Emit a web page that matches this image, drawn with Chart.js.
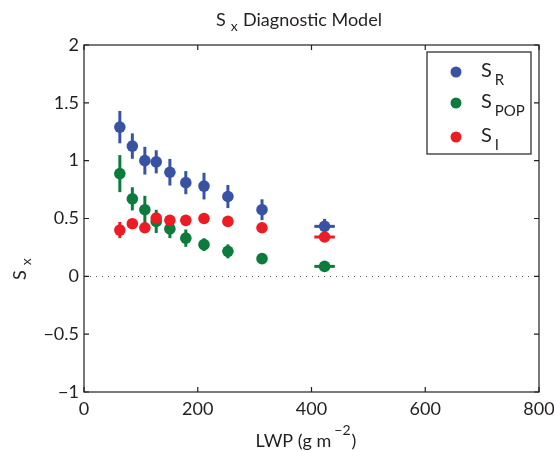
<!DOCTYPE html>
<html><head><meta charset="utf-8">
<script src="https://cdn.jsdelivr.net/npm/chart.js@4/dist/chart.umd.min.js"></script>
<style>html,body{margin:0;padding:0;background:#fff;}#wrap{width:554px;height:451px;position:relative;}</style>
</head><body><div id="wrap"><canvas id="c" width="554" height="451"></canvas></div>
<script>
// ---- data ----
const lwp      = [63, 85, 107, 127, 151, 179, 211, 253, 313, 423];
const lwpErr   = [0, 0, 0, 0, 0, 0, 0, 0, 0, 18];
const sR       = [1.29, 1.126, 1.0, 0.99, 0.90, 0.81, 0.78, 0.69, 0.576, 0.432];
const sRErr    = [0.14, 0.11, 0.12, 0.10, 0.115, 0.10, 0.115, 0.10, 0.09, 0.065];
const sPOP     = [0.888, 0.67, 0.576, 0.475, 0.41, 0.33, 0.274, 0.216, 0.153, 0.086];
const sPOPErr  = [0.16, 0.10, 0.12, 0.10, 0.08, 0.075, 0.055, 0.06, 0.02, 0.02];
const sI       = [0.40, 0.455, 0.42, 0.504, 0.484, 0.484, 0.50, 0.475, 0.42, 0.34];
const sIErr    = [0.07, 0.03, 0.02, 0.04, 0.03, 0.02, 0.02, 0.03, 0.02, 0.02];
const xTicks   = [0, 200, 400, 600, 800];
const yTicks   = [-1, -0.5, 0, 0.5, 1, 1.5, 2];

const BLUE = '#3853a4', GREEN = '#0c7b3c', RED = '#ec1c24', INK = '#231f20';
const FONT = 'Lato';
const R = 5.8;

function pts(ys, yerr){ return lwp.map((x,i)=>({x:x, y:ys[i], yErr:yerr[i], xErr:lwpErr[i]})); }

const errorBars = {
  id:'errorBars',
  beforeDatasetDraw(chart, args){
    const ds = chart.data.datasets[args.index];
    const xs = chart.scales.x, ys = chart.scales.y, ctx = chart.ctx;
    ctx.save();
    ctx.strokeStyle = ds.backgroundColor; ctx.lineWidth = 3;
    ds.data.forEach(p=>{
      const px = xs.getPixelForValue(p.x), py = ys.getPixelForValue(p.y);
      if (p.yErr){ ctx.beginPath(); ctx.moveTo(px, ys.getPixelForValue(p.y-p.yErr)); ctx.lineTo(px, ys.getPixelForValue(p.y+p.yErr)); ctx.stroke(); }
      if (p.xErr){ ctx.beginPath(); ctx.moveTo(xs.getPixelForValue(p.x-p.xErr), py); ctx.lineTo(xs.getPixelForValue(p.x+p.xErr), py); ctx.stroke(); }
    });
    ctx.restore();
  }
};

const zeroLine = {
  id:'zeroLine',
  beforeDatasetsDraw(chart){
    const {ctx, chartArea:a, scales:{y}} = chart;
    const py = Math.round(y.getPixelForValue(0)) + 0.5;
    ctx.save(); ctx.strokeStyle = '#555'; ctx.lineWidth = 1; ctx.setLineDash([1,5]);
    ctx.beginPath(); ctx.moveTo(a.left, py); ctx.lineTo(a.right, py); ctx.stroke(); ctx.restore();
  }
};

function t(ctx, s, x, y, size){ ctx.font = size+'px '+FONT; ctx.fillText(s, x, y); return ctx.measureText(s).width; }

const decor = {
  id:'decor',
  afterDraw(chart){
    const {ctx, chartArea:a, scales:{x, y}} = chart;
    ctx.save();
    // frame
    ctx.strokeStyle = INK; ctx.lineWidth = 1.2;
    ctx.strokeRect(a.left, a.top, a.right-a.left, a.bottom-a.top);
    // inward ticks
    ctx.beginPath();
    xTicks.forEach(v=>{ const px = x.getPixelForValue(v); ctx.moveTo(px, a.bottom); ctx.lineTo(px, a.bottom-5); ctx.moveTo(px, a.top); ctx.lineTo(px, a.top+5); });
    yTicks.forEach(v=>{ const py = y.getPixelForValue(v); ctx.moveTo(a.left, py); ctx.lineTo(a.left+5, py); ctx.moveTo(a.right, py); ctx.lineTo(a.right-5, py); });
    ctx.stroke();
    ctx.fillStyle = INK; ctx.textAlign = 'left'; ctx.textBaseline = 'alphabetic';
    // title
    let w = t(ctx, 'S', 216, 26, 18);
    t(ctx, 'x', 216 + w + 5, 31, 14);
    t(ctx, 'Diagnostic Model', 243, 26, 18);
    // x label
    ctx.font = '18px '+FONT;
    const p1 = 'LWP (g m', p3 = ')';
    const w1 = ctx.measureText(p1).width;
    ctx.font = '14px '+FONT; const w2 = ctx.measureText('\u22122').width;
    ctx.font = '18px '+FONT; const w3 = ctx.measureText(p3).width;
    const tot = w1 + 3 + w2 + 1 + w3; let sx = 306 - tot/2;
    t(ctx, p1, sx, 447, 18); t(ctx, '\u22122', sx + w1 + 3, 435, 14); t(ctx, p3, sx + w1 + 3 + w2 + 1, 447, 18);
    // y label
    ctx.save(); ctx.translate(26, 280); ctx.rotate(-Math.PI/2);
    const ws = t(ctx, 'S', 0, 0, 18); t(ctx, 'x', ws + 5, 5, 14);
    ctx.restore();
    // legend
    const lx = 427, ly = 52, lw = 104, lh = 102;
    ctx.fillStyle = '#fff'; ctx.fillRect(lx, ly, lw, lh);
    ctx.strokeStyle = INK; ctx.lineWidth = 1.2; ctx.strokeRect(lx, ly, lw, lh);
    const items = [[BLUE, 'R', 72], [GREEN, 'POP', 103], [RED, 'I', 137]];
    items.forEach(([c, sub, cy])=>{
      ctx.fillStyle = c; ctx.beginPath(); ctx.arc(456, cy, 5.5, 0, Math.PI*2); ctx.fill();
      ctx.fillStyle = INK;
      const sw = t(ctx, 'S', 481, cy + 5, 20);
      t(ctx, sub, 481 + sw + 3, cy + 13, 15);
    });
    ctx.restore();
  }
};

const tickFont = {family: FONT, size: 18};
new Chart(document.getElementById('c'), {
  type: 'scatter',
  data: { datasets: [
    {label:'S_R', data: pts(sR, sRErr), backgroundColor: BLUE, borderWidth: 0, pointRadius: R, pointHoverRadius: R, order: 3},
    {label:'S_POP', data: pts(sPOP, sPOPErr), backgroundColor: GREEN, borderWidth: 0, pointRadius: R, pointHoverRadius: R, order: 2},
    {label:'S_I', data: pts(sI, sIErr), backgroundColor: RED, borderWidth: 0, pointRadius: R, pointHoverRadius: R, order: 1}
  ]},
  options: {
    responsive: false, animation: false, events: [],
    layout: { padding: {left: 0, top: 45, right: 15, bottom: 0} },
    plugins: { legend: {display: false}, tooltip: {enabled: false}, title: {display: false} },
    scales: {
      x: { type: 'linear', min: 0, max: 800, afterBuildTicks: s => { s.ticks = xTicks.map(v=>({value:v})); },
        grid: {display: false, drawTicks: false}, border: {display: false},
        ticks: {font: tickFont, color: INK, padding: 6, maxRotation: 0, autoSkip: false},
        afterFit: s => { s.height = 59; s.paddingLeft = 0; s.paddingRight = 0; } },
      y: { type: 'linear', min: -1, max: 2, afterBuildTicks: s => { s.ticks = yTicks.map(v=>({value:v})); },
        grid: {display: false, drawTicks: false}, border: {display: false},
        ticks: {font: tickFont, color: INK, padding: 5, autoSkip: false,
          callback: v => v < 0 ? '\u2212' + Math.abs(v) : String(v)},
        afterFit: s => { s.width = 84; s.paddingTop = 0; s.paddingBottom = 0; } }
    }
  },
  plugins: [zeroLine, errorBars, decor]
});
</script>
</body></html>
